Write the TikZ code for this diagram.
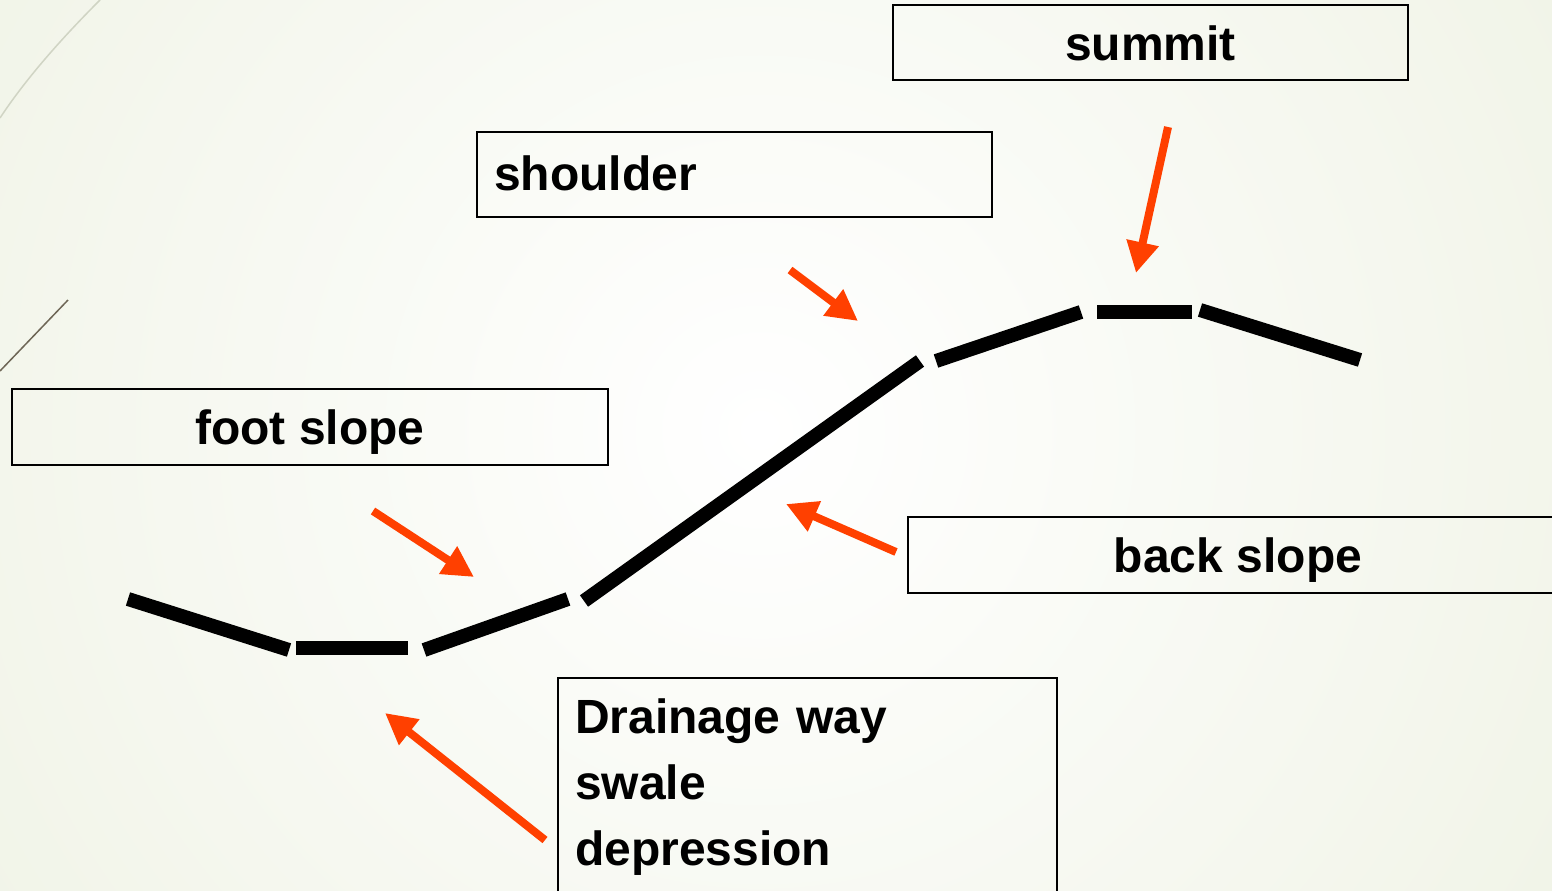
\documentclass[tikz,border=0pt]{standalone}
\usepackage{fontspec}
\setmainfont{Liberation Sans}
\usetikzlibrary{arrows.meta}
\definecolor{bgout}{RGB}{232,237,217}
\definecolor{arrred}{RGB}{255,64,0}
\definecolor{deco1}{RGB}{208,212,196}
\definecolor{deco2}{RGB}{110,102,86}
\tikzset{
  lbox/.style={draw=black, line width=2.2pt, inner sep=0pt, fill=none,
    font=\fontsize{48}{66}\selectfont\bfseries},
  onebox/.style={lbox, text height=35pt, text depth=0pt},
  ground/.style={line width=14pt, line cap=butt},
  pointer/.style={draw=arrred, line width=8pt, line cap=butt,
    -{Triangle[width=31pt,length=31pt]}, arrred},
}
\begin{document}
\begin{tikzpicture}[x=1pt,y=-1pt]
\useasboundingbox (0,0) rectangle (1552,891);
\clip (0,0) rectangle (1552,891);
% background
\fill[bgout] (0,0) rectangle (1552,891);
\shade[inner color=white, outer color=bgout] (760,430) circle (1500pt);
% decorative theme lines
\draw[deco1, line width=1.5pt] (100,0) .. controls (60,40) and (25,80) .. (0,118);
\draw[deco2, line width=1.5pt] (68,300) -- (0,371);

% label boxes
\node[onebox, minimum width=515pt, minimum height=75pt] (summit) at (1150.5,42.5) {summit};
\node[onebox, minimum height=85pt, text width=481pt, inner xsep=17pt, align=left, text height=31pt] (shoulder) at (734.5,174.5) {shoulder};
\node[onebox, minimum width=596pt, minimum height=76pt] (foot) at (310,427) {foot slope};
\node[onebox, minimum width=660pt, minimum height=76pt] (back) at (1238,555) {back slope};
\node[lbox, anchor=north west, text width=465pt, inner xsep=17pt, inner ysep=21pt,
      align=left] (drain) at (557,677)
      {Drainage way\\swale\\depression};

% ground profile
\coordinate (g1a) at (128,599);  \coordinate (g1b) at (289,650);
\coordinate (g2a) at (296,648);  \coordinate (g2b) at (408,648);
\coordinate (g3a) at (424,650);  \coordinate (g3b) at (568,599);
\coordinate (g4a) at (584,601);  \coordinate (g4b) at (920,361);
\coordinate (g5a) at (936,361);  \coordinate (g5b) at (1081,312);
\coordinate (g6a) at (1097,312); \coordinate (g6b) at (1192,312);
\coordinate (g7a) at (1200,310); \coordinate (g7b) at (1360,360);
\draw[ground] (g1a) -- (g1b);
\draw[ground] (g2a) -- (g2b);
\draw[ground] (g3a) -- (g3b);
\draw[ground] (g4a) -- (g4b);
\draw[ground] (g5a) -- (g5b);
\draw[ground] (g6a) -- (g6b);
\draw[ground] (g7a) -- (g7b);

% pointers
\coordinate (a1s) at (790,270);  \coordinate (a1e) at (858,321);
\coordinate (a2s) at (1168,127); \coordinate (a2e) at (1136,273);
\coordinate (a3s) at (373,511);  \coordinate (a3e) at (474,577);
\coordinate (a4s) at (896,552);  \coordinate (a4e) at (786,504);
\coordinate (a5s) at (545,840);  \coordinate (a5e) at (385,713);
\draw[pointer] (a1s) -- (a1e);
\draw[pointer] (a2s) -- (a2e);
\draw[pointer] (a3s) -- (a3e);
\draw[pointer] (a4s) -- (a4e);
\draw[pointer] (a5s) -- (a5e);
\end{tikzpicture}
\end{document}
